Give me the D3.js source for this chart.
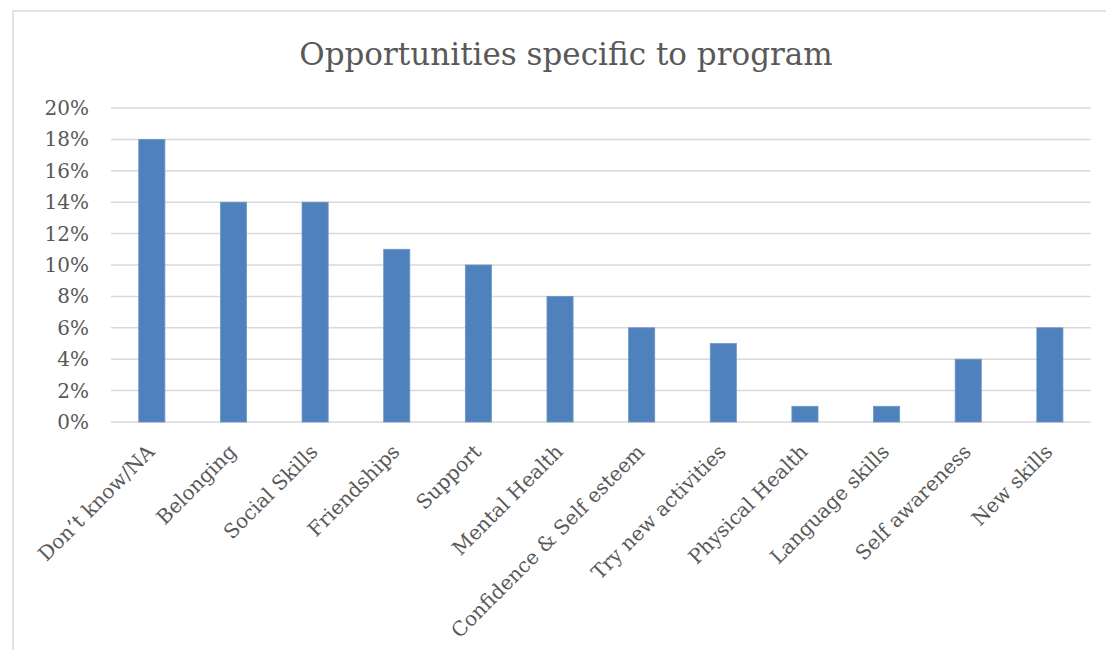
<!DOCTYPE html>
<html><head><meta charset="utf-8">
<script src="https://cdn.jsdelivr.net/npm/d3@7/dist/d3.min.js"></script>
<style>
html,body{margin:0;padding:0;background:#fff;}
svg{display:block;}
</style></head>
<body>
<svg id="chart" width="1106" height="650"></svg>
<script>
const title = "Opportunities specific to program";
const categories = ["Don\u2019t know/NA","Belonging","Social Skills","Friendships","Support","Mental Health","Confidence & Self esteem","Try new activities","Physical Health","Language skills","Self awareness","New skills"];
const values = [18,14,14,11,10,8,6,5,1,1,4,6];
const yTicks = [0,2,4,6,8,10,12,14,16,18,20];

const svg = d3.select("#chart");
const font = "'DejaVu Serif', 'Liberation Serif', serif";
const textColor = "#595959";
const gridColor = "#D9D9D9";

svg.append("rect").attr("x",13).attr("y",11).attr("width",1200).attr("height",700)
  .attr("fill","#fff").attr("stroke",gridColor).attr("stroke-width",1.5);

const x = d3.scaleBand().domain(categories).range([111,1090.7]).paddingInner(0.68).paddingOuter(0.34);
const y = d3.scaleLinear().domain([0,20]).range([422,108]);

// grid
const grid = svg.append("g");
grid.selectAll("line").data(yTicks).join("line")
  .attr("x1",111).attr("x2",1090.7)
  .attr("y1",d=>y(d)).attr("y2",d=>y(d))
  .attr("stroke",gridColor).attr("stroke-width",1.5);

// y axis labels
const yAxis = svg.append("g").attr("transform","translate(111,0)")
  .call(d3.axisLeft(y).tickValues(yTicks).tickSize(0).tickPadding(22).tickFormat(d=>d+"%"));
yAxis.select(".domain").remove();
yAxis.selectAll("text").attr("font-family",font).attr("font-size",20).attr("fill",textColor);

// bars
svg.append("g").selectAll("rect").data(values).join("rect")
  .attr("x",(d,i)=>x(categories[i]))
  .attr("y",d=>y(d))
  .attr("width",x.bandwidth())
  .attr("height",d=>y(0)-y(d))
  .attr("fill","#4F81BD")
  .attr("stroke","#6F95C8").attr("stroke-width",0.8);

// x axis labels
const xAxis = svg.append("g").attr("transform","translate(0,422)")
  .call(d3.axisBottom(x).tickSize(0).tickPadding(0));
xAxis.select(".domain").remove();
xAxis.selectAll("text")
  .attr("font-family",font).attr("font-size",20).attr("fill",textColor)
  .attr("text-anchor","end")
  .attr("dy",null).attr("y",null)
  .attr("transform","translate(4,31) rotate(-45)");

// title
svg.append("text").attr("x",566).attr("y",65).attr("text-anchor","middle")
  .attr("font-family",font).attr("font-size",31).attr("fill",textColor)
  .text(title);
</script>
</body></html>
